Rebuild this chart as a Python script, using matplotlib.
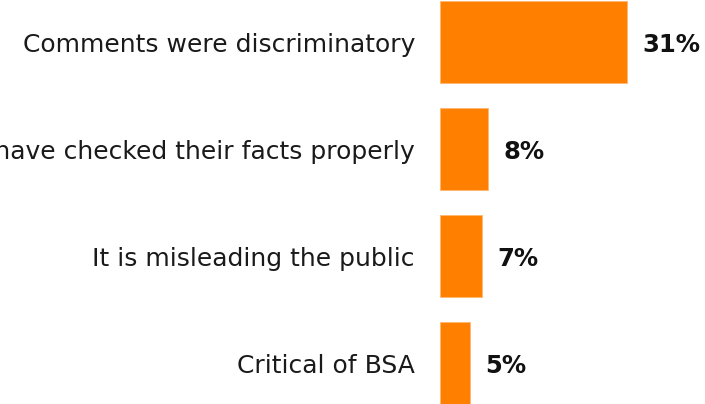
import matplotlib.pyplot as plt

categories = ['Comments were discriminatory',
              'They should have checked their facts properly',
              'It is misleading the public',
              'Critical of BSA']
values = [31, 8, 7, 5]
value_labels = ['31%', '8%', '7%', '5%']

fig = plt.figure(figsize=(7.05, 4.04), dpi=100)
ax = fig.add_axes([440 / 705, 0, 265 / 705, 1])

pos = list(range(len(categories)))
ax.barh(pos, values, height=0.766, color='#FF7F00', edgecolor='#FFB870', linewidth=0.6)
ax.set_xlim(0, 43.9)
ax.set_ylim(3.379, -0.397)

ax.set_yticks(pos)
ax.set_yticklabels(categories, fontsize=18, color='#1a1a1a')
ax.tick_params(axis='y', length=0, pad=18)
ax.set_xticks([])
for s in ax.spines.values():
    s.set_visible(False)

for p, v, lab in zip(pos, values, value_labels):
    ax.annotate(lab, (v, p), xytext=(11, -2), textcoords='offset points',
                va='center', ha='left', fontsize=17.5, fontweight='bold', color='#111111')

fig.savefig('out.png', dpi=100)
